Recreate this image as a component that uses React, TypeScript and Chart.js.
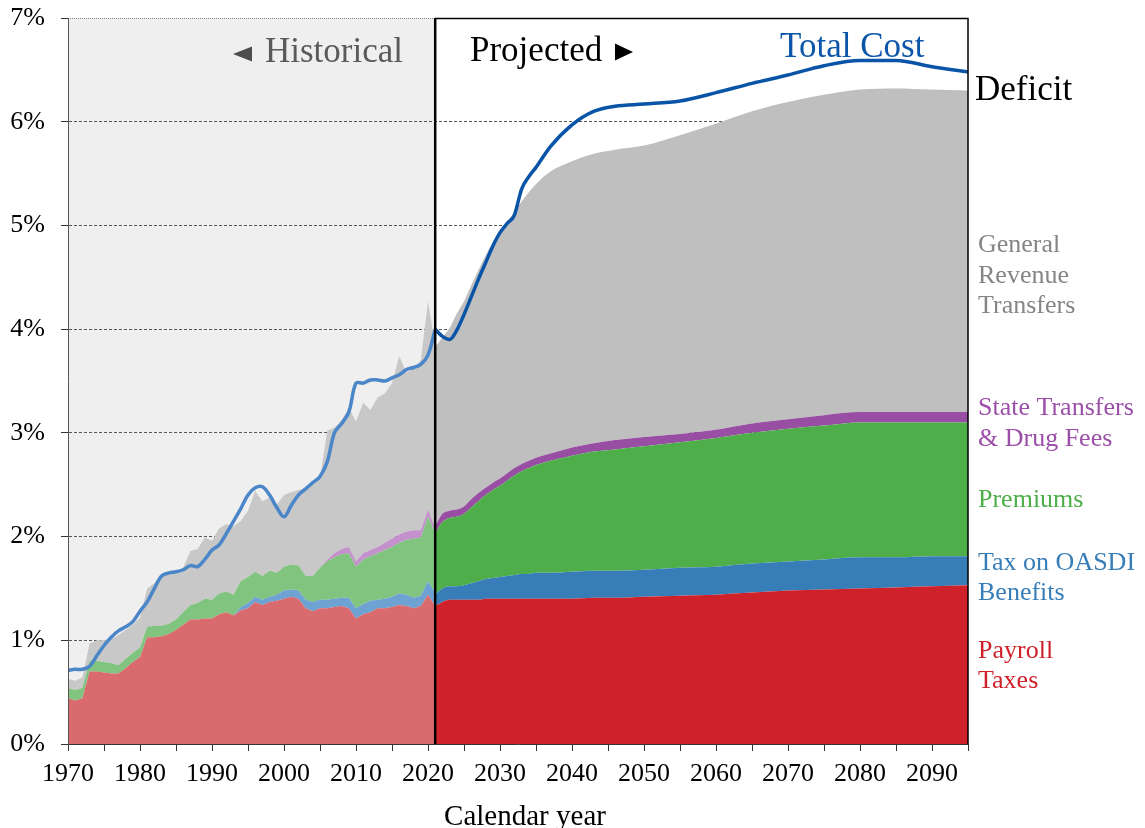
import React, { useEffect, useRef } from 'react';
import { Chart, registerables } from 'chart.js';

Chart.register(...registerables);

// ---------- Historical data (percent of GDP) ----------
const histYears = [
  1970, 1971, 1972, 1973, 1974, 1975, 1976, 1977, 1978, 1979,
  1980, 1981, 1982, 1983, 1984, 1985, 1986, 1987, 1988, 1989,
  1990, 1991, 1992, 1993, 1994, 1995, 1996, 1997, 1998, 1999,
  2000, 2001, 2002, 2003, 2004, 2005, 2006, 2007, 2008, 2009,
  2010, 2011, 2012, 2013, 2014, 2015, 2016, 2017, 2018, 2019,
  2020, 2021,
];
const histPayroll = [
  0.44, 0.42, 0.44, 0.70, 0.70, 0.69, 0.68, 0.68, 0.73, 0.79,
  0.84, 1.03, 1.03, 1.04, 1.06, 1.10, 1.15, 1.20, 1.20, 1.21,
  1.21, 1.25, 1.27, 1.24, 1.29, 1.31, 1.37, 1.34, 1.37, 1.38,
  1.40, 1.42, 1.40, 1.31, 1.28, 1.31, 1.31, 1.32, 1.33, 1.31,
  1.21, 1.25, 1.27, 1.31, 1.31, 1.32, 1.34, 1.33, 1.31, 1.33,
  1.44, 1.33,
];
const histOasdiTax = [
  0, 0, 0, 0, 0, 0, 0, 0, 0, 0,
  0, 0, 0, 0, 0, 0, 0, 0, 0, 0,
  0, 0, 0, 0, 0.03, 0.05, 0.05, 0.05, 0.05, 0.06,
  0.08, 0.07, 0.08, 0.08, 0.09, 0.08, 0.08, 0.08, 0.08, 0.10,
  0.10, 0.10, 0.11, 0.08, 0.09, 0.10, 0.11, 0.11, 0.10, 0.10,
  0.13, 0.13,
];
const histPremiums = [
  0.10, 0.10, 0.10, 0.10, 0.10, 0.10, 0.10, 0.08, 0.09, 0.09,
  0.09, 0.10, 0.11, 0.10, 0.10, 0.10, 0.12, 0.14, 0.16, 0.19,
  0.18, 0.20, 0.20, 0.20, 0.25, 0.25, 0.24, 0.23, 0.25, 0.21,
  0.23, 0.24, 0.24, 0.23, 0.25, 0.31, 0.37, 0.40, 0.42, 0.43,
  0.40, 0.43, 0.43, 0.45, 0.47, 0.48, 0.49, 0.53, 0.57, 0.56,
  0.62, 0.58,
];
const histStateDrug = [
  0, 0, 0, 0, 0, 0, 0, 0, 0, 0,
  0, 0, 0, 0, 0, 0, 0, 0, 0, 0,
  0, 0, 0, 0, 0, 0, 0, 0, 0, 0,
  0, 0, 0, 0, 0, 0, 0.02, 0.04, 0.05, 0.06,
  0.05, 0.06, 0.06, 0.06, 0.07, 0.08, 0.08, 0.08, 0.08, 0.07,
  0.07, 0.04,
];
const histGeneralRevenue = [
  0.09, 0.09, 0.10, 0.17, 0.20, 0.21, 0.23, 0.29, 0.28, 0.27,
  0.29, 0.37, 0.41, 0.48, 0.50, 0.45, 0.43, 0.52, 0.52, 0.59,
  0.57, 0.63, 0.65, 0.66, 0.58, 0.64, 0.78, 0.72, 0.71, 0.66,
  0.69, 0.70, 0.73, 0.84, 0.88, 0.86, 1.24, 1.21, 1.24, 1.34,
  1.35, 1.45, 1.35, 1.44, 1.44, 1.50, 1.72, 1.53, 1.56, 1.64,
  2.01, 1.77,
];
const histTotalCost = [
  0.71, 0.72, 0.72, 0.75, 0.85, 0.95, 1.03, 1.09, 1.13, 1.18,
  1.28, 1.37, 1.50, 1.62, 1.65, 1.66, 1.68, 1.72, 1.71, 1.78,
  1.87, 1.92, 2.03, 2.15, 2.27, 2.40, 2.47, 2.48, 2.40, 2.28,
  2.19, 2.30, 2.40, 2.46, 2.52, 2.58, 2.72, 3.00, 3.09, 3.20,
  3.48, 3.48, 3.51, 3.51, 3.50, 3.53, 3.56, 3.61, 3.63, 3.66,
  3.75, 4.00,
];

// ---------- Projected data (percent of GDP) ----------
const projYears = [
  2021, 2022, 2023, 2024, 2025, 2026, 2027, 2028, 2029, 2030,
  2031, 2032, 2033, 2034, 2035, 2037, 2040, 2043, 2046, 2050,
  2055, 2060, 2065, 2070, 2075, 2080, 2085, 2090, 2095,
];
const projPayroll = [
  1.33, 1.37, 1.39, 1.39, 1.39, 1.39, 1.39, 1.40, 1.40, 1.40,
  1.40, 1.40, 1.40, 1.40, 1.40, 1.40, 1.40, 1.41, 1.41, 1.42,
  1.43, 1.44, 1.46, 1.48, 1.49, 1.50, 1.51, 1.52, 1.53,
];
const projOasdiTax = [
  0.11, 0.13, 0.13, 0.13, 0.14, 0.16, 0.18, 0.19, 0.20, 0.21,
  0.22, 0.23, 0.24, 0.24, 0.25, 0.25, 0.26, 0.26, 0.26, 0.26,
  0.27, 0.27, 0.28, 0.28, 0.29, 0.30, 0.29, 0.29, 0.28,
];
const projPremiums = [
  0.59, 0.64, 0.66, 0.67, 0.69, 0.73, 0.77, 0.81, 0.85, 0.88,
  0.92, 0.96, 0.99, 1.02, 1.04, 1.08, 1.12, 1.15, 1.17, 1.19,
  1.21, 1.24, 1.26, 1.28, 1.29, 1.30, 1.30, 1.29, 1.29,
];
const projStateDrug = [
  0.07, 0.08, 0.07, 0.07, 0.07, 0.08, 0.08, 0.07, 0.07, 0.07,
  0.07, 0.07, 0.07, 0.07, 0.07, 0.07, 0.08, 0.08, 0.09, 0.09,
  0.08, 0.08, 0.09, 0.09, 0.10, 0.10, 0.10, 0.10, 0.10,
];
const projGeneralRevenue = [
  1.73, 1.70, 1.76, 1.89, 1.98, 2.06, 2.15, 2.24, 2.32, 2.38,
  2.43, 2.47, 2.53, 2.59, 2.64, 2.72, 2.76, 2.79, 2.80, 2.81,
  2.88, 2.95, 3.01, 3.06, 3.09, 3.11, 3.12, 3.11, 3.10,
];
const projTotalCost = [
  4.00, 3.93, 3.90, 3.99, 4.14, 4.31, 4.48, 4.64, 4.80, 4.93,
  5.02, 5.10, 5.35, 5.47, 5.56, 5.76, 5.97, 6.10, 6.15, 6.17,
  6.20, 6.28, 6.37, 6.45, 6.54, 6.59, 6.59, 6.53, 6.48,
];

const yTickValues = [0, 1, 2, 3, 4, 5, 6, 7];
const xMin = 1970;
const xMax = 2095;
const boundaryYear = 2021;

const SERIF = '"Liberation Serif", "Times New Roman", serif';

const histColors = ['#d96a6d', '#6ea2d2', '#80c47f', '#c491cc', '#c8c8c8'];
const projColors = ['#cf2129', '#377eb8', '#4dae4a', '#984ea3', '#bfbfbf'];

function stackTops(parts: number[][]): number[][] {
  let acc = parts[0].map(() => 0);
  return parts.map((p) => {
    acc = acc.map((a, i) => Math.round((a + p[i]) * 10000) / 10000);
    return acc;
  });
}

function toPoints(xs: number[], ys: number[]) {
  return xs.map((x, i) => ({ x, y: ys[i] }));
}

const decorPlugin = {
  id: 'decor',
  beforeDraw(chart: any) {
    const { ctx, chartArea, scales } = chart;
    const xb = scales.x.getPixelForValue(boundaryYear);
    ctx.save();
    ctx.fillStyle = '#efefef';
    ctx.fillRect(chartArea.left, chartArea.top, xb - chartArea.left, chartArea.bottom - chartArea.top);
    ctx.restore();
  },
  afterDatasetsDraw(chart: any) {
    const { ctx, chartArea, scales } = chart;
    const xb = scales.x.getPixelForValue(boundaryYear);
    ctx.save();
    ctx.strokeStyle = '#8a8a8a';
    ctx.lineWidth = 1;
    ctx.setLineDash([1, 1]);
    ctx.beginPath();
    ctx.moveTo(chartArea.left, chartArea.top + 0.5);
    ctx.lineTo(xb, chartArea.top + 0.5);
    ctx.stroke();
    ctx.setLineDash([]);
    ctx.strokeStyle = '#000';
    ctx.lineWidth = 1.5;
    ctx.beginPath();
    ctx.moveTo(xb, chartArea.top + 0.5);
    ctx.lineTo(chartArea.right, chartArea.top + 0.5);
    ctx.lineTo(chartArea.right, chartArea.bottom);
    ctx.stroke();
    ctx.lineWidth = 2.5;
    ctx.beginPath();
    ctx.moveTo(xb, chartArea.top);
    ctx.lineTo(xb, chartArea.bottom);
    ctx.stroke();
    ctx.restore();
  },
  afterDraw(chart: any) {
    const { ctx } = chart;
    ctx.save();
    ctx.textBaseline = 'alphabetic';
    ctx.textAlign = 'left';

    ctx.fillStyle = '#4d4d4d';
    ctx.beginPath();
    ctx.moveTo(233, 54);
    ctx.lineTo(252, 46.5);
    ctx.lineTo(252, 61.5);
    ctx.closePath();
    ctx.fill();
    ctx.font = `35px ${SERIF}`;
    ctx.fillStyle = '#5a5a5a';
    ctx.fillText('Historical', 265, 62);

    ctx.fillStyle = '#000';
    ctx.fillText('Projected', 470, 61);
    ctx.beginPath();
    ctx.moveTo(615, 43.5);
    ctx.lineTo(633, 52);
    ctx.lineTo(615, 60.5);
    ctx.closePath();
    ctx.fill();

    ctx.fillStyle = '#0b56a9';
    ctx.fillText('Total Cost', 780, 57);
    ctx.fillStyle = '#000';
    ctx.fillText('Deficit', 975, 100);

    ctx.font = `26px ${SERIF}`;
    const labels: [string, number, string][] = [
      ['General', 252, '#858585'],
      ['Revenue', 283, '#858585'],
      ['Transfers', 313, '#858585'],
      ['State Transfers', 415, '#9b4fa8'],
      ['& Drug Fees', 446, '#9b4fa8'],
      ['Premiums', 507, '#4dae4a'],
      ['Tax on OASDI', 570, '#377eb8'],
      ['Benefits', 600, '#377eb8'],
      ['Payroll', 658, '#cf2129'],
      ['Taxes', 688, '#cf2129'],
    ];
    labels.forEach(([t, y, c]) => {
      ctx.fillStyle = c;
      ctx.fillText(t, 978, y);
    });

    ctx.font = `29px ${SERIF}`;
    ctx.fillStyle = '#000';
    ctx.textAlign = 'center';
    ctx.fillText('Calendar year', 525, 825);
    ctx.restore();
  },
};

export default function App() {
  const canvasRef = useRef<HTMLCanvasElement | null>(null);

  useEffect(() => {
    const canvas = canvasRef.current;
    if (!canvas) return;

    const histTops = stackTops([histPayroll, histOasdiTax, histPremiums, histStateDrug, histGeneralRevenue]);
    const projTops = stackTops([projPayroll, projOasdiTax, projPremiums, projStateDrug, projGeneralRevenue]);

    const areaSets: any[] = [];
    histTops.forEach((tops, i) => {
      areaSets.push({
        data: toPoints(histYears, tops),
        backgroundColor: histColors[i],
        borderWidth: 0,
        pointRadius: 0,
        tension: 0,
        fill: i === 0 ? 'origin' : '-1',
      });
    });
    projTops.forEach((tops, i) => {
      areaSets.push({
        data: toPoints(projYears, tops),
        backgroundColor: projColors[i],
        borderWidth: 0,
        pointRadius: 0,
        cubicInterpolationMode: 'monotone',
        fill: i === 0 ? 'origin' : '-1',
      });
    });

    const datasets: any[] = [
      {
        data: toPoints(histYears, histTotalCost),
        borderColor: '#4a86c8',
        borderWidth: 3.5,
        pointRadius: 0,
        tension: 0.35,
        fill: false,
      },
      {
        data: toPoints(projYears, projTotalCost),
        borderColor: '#0a54a8',
        borderWidth: 3.5,
        pointRadius: 0,
        cubicInterpolationMode: 'monotone',
        fill: false,
      },
      ...areaSets,
    ];

    const tickFont = { family: SERIF, size: 26 };

    const chart = new Chart(canvas, {
      type: 'line',
      data: { datasets },
      options: {
        animation: false,
        responsive: false,
        devicePixelRatio: 1,
        layout: { padding: { top: 18, right: 177, left: 0, bottom: 0 } },
        plugins: {
          legend: { display: false },
          tooltip: { enabled: false },
        },
        elements: { point: { radius: 0 } },
        scales: {
          x: {
            type: 'linear',
            min: xMin,
            max: xMax,
            afterFit: (s: any) => {
              s.height = 84;
              s.paddingLeft = 0;
              s.paddingRight = 0;
            },
            ticks: {
              stepSize: 5,
              autoSkip: false,
              maxRotation: 0,
              minRotation: 0,
              padding: 8,
              font: tickFont,
              color: '#000',
              callback: (v: any) => (Number(v) % 10 === 0 ? String(v) : ''),
            },
            grid: {
              drawOnChartArea: false,
              drawTicks: true,
              tickLength: 7,
              tickColor: '#333',
            },
            border: { display: true, color: '#333', width: 1, z: 1 },
          },
          y: {
            type: 'linear',
            min: yTickValues[0],
            max: yTickValues[yTickValues.length - 1],
            afterFit: (s: any) => {
              s.width = 68;
              s.paddingTop = 0;
              s.paddingBottom = 0;
            },
            afterBuildTicks: (s: any) => {
              s.ticks = yTickValues.map((v) => ({ value: v }));
            },
            ticks: {
              padding: 16,
              font: tickFont,
              color: '#000',
              callback: (v: any) => `${v}%`,
            },
            grid: {
              color: (c: any) =>
                c.tick && (c.tick.value === 0 || c.tick.value === 7) ? 'rgba(0,0,0,0)' : '#555',
              lineWidth: 1,
              tickLength: 7,
              tickColor: '#333',
            },
            border: { display: true, color: '#555', width: 1, dash: [3, 2], z: 1 },
          },
        },
      },
      plugins: [decorPlugin],
    } as any);

    return () => {
      chart.destroy();
    };
  }, []);

  return (
    <div style={{ position: 'absolute', left: 0, top: 0, width: 1145, height: 828, background: '#fff' }}>
      <canvas ref={canvasRef} width={1145} height={828} style={{ display: 'block' }} />
    </div>
  );
}
